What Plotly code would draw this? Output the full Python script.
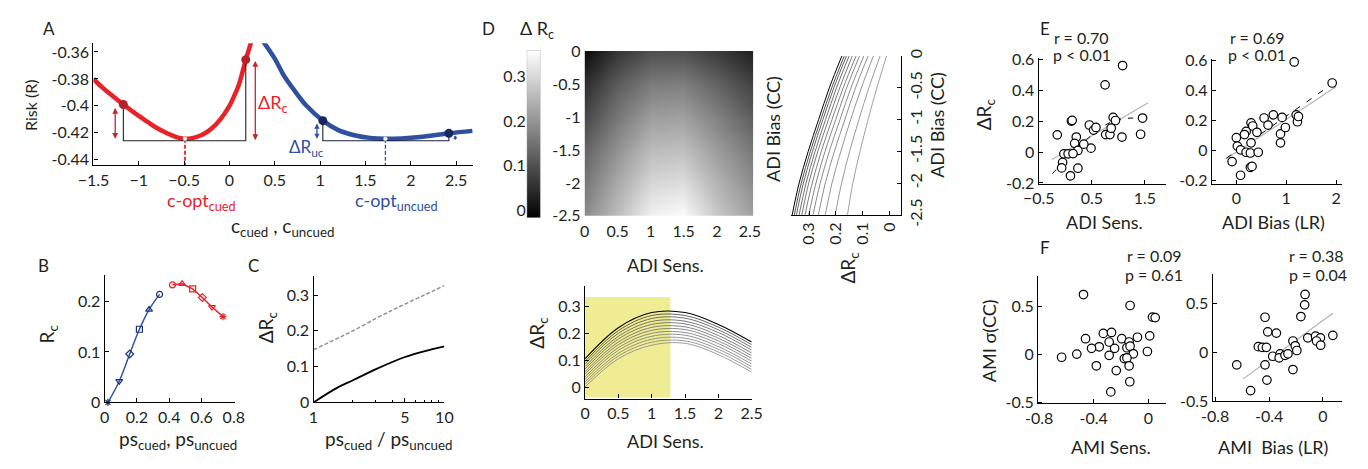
import plotly.graph_objects as go

W, H = 1368, 469
FONT = "Lato"
TXT = "#231f20"
RED = "#ea2127"
BLUE = "#2f4f9f"
DRED = "#b0232a"
DBLUE = "#1c2560"

# ---------------- data ----------------
# Panel A: risk curves
a_cued_c = [-1.5, -1.4, -1.3, -1.17, -1.0, -0.9, -0.8, -0.7, -0.6, -0.49, -0.4, -0.3, -0.2, -0.1,
            0.0, 0.05, 0.1, 0.15, 0.18, 0.22, 0.25]
a_cued_r = [-0.380, -0.3865, -0.392, -0.399, -0.4075, -0.412, -0.4165, -0.4200, -0.4228, -0.4245,
            -0.4238, -0.4215, -0.4170, -0.4100, -0.4000, -0.3930, -0.3850, -0.3735, -0.3657, -0.3570, -0.3500]
a_unc_c = [0.37, 0.5, 0.6, 0.71, 0.85, 1.03, 1.2, 1.39, 1.55, 1.72, 1.9, 2.1, 2.42, 2.68]
a_unc_r = [-0.352, -0.365, -0.3775, -0.388, -0.400, -0.411, -0.418, -0.422, -0.4238, -0.4245,
           -0.4242, -0.4232, -0.4204, -0.4186]
a_cued_pts_c = [-1.17, 0.18]
a_cued_pts_r = [-0.399, -0.3657]
a_unc_pts_c = [1.03, 2.42]
a_unc_pts_r = [-0.411, -0.4204]
a_base = -0.4259
a_copt = [-0.49, 1.72]
a_xticks = [-1.5, -1, -0.5, 0, 0.5, 1, 1.5, 2, 2.5]
a_yticks = [-0.44, -0.42, -0.40, -0.38, -0.36]
a_yticktext = ["-0.44", "-0.42", "-0.4", "-0.38", "-0.36"]

# Panel B
b_unc_ps = [0.02, 0.09, 0.155, 0.215, 0.275, 0.34]
b_unc_rc = [0.0, 0.042, 0.096, 0.145, 0.184, 0.214]
b_cue_ps = [0.42, 0.48, 0.545, 0.605, 0.665, 0.733]
b_cue_rc = [0.233, 0.235, 0.225, 0.208, 0.189, 0.170]
b_unc_sym = ["asterisk-open", "triangle-down-open", "diamond-open", "square-open", "triangle-up-open", "circle-open"]
b_cue_sym = ["circle-open", "triangle-up-open", "square-open", "diamond-open", "triangle-down-open", "asterisk-open"]

# Panel C
c_ratio = [1, 1.5, 2, 3, 4, 5, 7, 10]
c_solid = [0.0, 0.040, 0.062, 0.093, 0.113, 0.127, 0.143, 0.157]
c_dashed = [0.147, 0.178, 0.200, 0.235, 0.258, 0.275, 0.300, 0.327]

# Panel D heatmap (Delta Rc over ADI sens x ADI bias)
hm_sens = [0, 0.5, 1.0, 1.5, 2.0, 2.55]
hm_bias = [0, -0.5, -1.0, -1.5, -2.0, -2.5]
hm_z = [
    [0.00, 0.06, 0.10, 0.10, 0.07, 0.03],
    [0.05, 0.12, 0.165, 0.17, 0.13, 0.08],
    [0.09, 0.16, 0.215, 0.22, 0.175, 0.12],
    [0.13, 0.20, 0.26, 0.265, 0.215, 0.16],
    [0.16, 0.235, 0.30, 0.31, 0.25, 0.19],
    [0.19, 0.265, 0.34, 0.355, 0.28, 0.22],
]
cb_lo, cb_hi = -0.017, 0.36

# Panel D right: Delta Rc vs ADI bias (one curve per sensitivity)
dr_bias = [0, -0.5, -1.0, -1.5, -2.0, -2.5]
dr_curves = [
    [0.178, 0.225, 0.265, 0.304, 0.338, 0.364],
    [0.169, 0.216, 0.257, 0.296, 0.330, 0.356],
    [0.161, 0.208, 0.249, 0.288, 0.322, 0.348],
    [0.151, 0.198, 0.239, 0.278, 0.312, 0.338],
    [0.139, 0.186, 0.228, 0.268, 0.302, 0.328],
    [0.125, 0.173, 0.215, 0.255, 0.289, 0.316],
    [0.112, 0.160, 0.201, 0.241, 0.275, 0.302],
    [0.096, 0.144, 0.185, 0.225, 0.259, 0.286],
    [0.080, 0.127, 0.167, 0.206, 0.240, 0.266],
    [0.060, 0.105, 0.145, 0.182, 0.215, 0.240],
    [0.035, 0.077, 0.114, 0.149, 0.179, 0.203],
    [0.011, 0.047, 0.080, 0.110, 0.137, 0.157],
]

# Panel D bottom: Delta Rc vs ADI sens (one curve per bias)
db_sens = [0, 0.5, 1.0, 1.5, 2.0, 2.5]
db_curves = [
    [0.105, 0.220, 0.276, 0.276, 0.232, 0.167],
    [0.095, 0.209, 0.265, 0.265, 0.222, 0.157],
    [0.086, 0.199, 0.254, 0.255, 0.212, 0.147],
    [0.076, 0.188, 0.243, 0.244, 0.202, 0.137],
    [0.067, 0.178, 0.232, 0.234, 0.191, 0.126],
    [0.057, 0.167, 0.221, 0.223, 0.181, 0.116],
    [0.048, 0.157, 0.210, 0.213, 0.171, 0.106],
    [0.038, 0.146, 0.199, 0.202, 0.161, 0.096],
    [0.029, 0.136, 0.188, 0.192, 0.150, 0.085],
    [0.019, 0.125, 0.177, 0.181, 0.140, 0.075],
    [0.010, 0.115, 0.166, 0.171, 0.130, 0.065],
    [0.000, 0.105, 0.155, 0.162, 0.120, 0.055],
]
db_band = [0, 1.28, -0.039, 0.334]

# Panel E
e1_x = [1.08, 0.75, -0.15, 0.116, 0.13, 0.454, 0.533, 0.578, 0.208, 0.177, 0.238, 0.485, 0.349,
        -0.026, 0.054, 0.146, -0.05, -0.068, 0.238, 0.098, 0.902, 0.946, 0.762, 0.841, 0.865, 1.068, 1.419, 1.456]
e1_y = [0.56, 0.435, 0.111, 0.2, 0.205, 0.175, 0.142, 0.159, 0.097, 0.056, 0.010, 0.025, 0.051,
        -0.012, -0.012, -0.01, -0.068, -0.103, -0.105, -0.154, 0.224, 0.204, 0.113, 0.113, 0.154, 0.097, 0.115, 0.22]
e1_fit_x = [-0.253, 1.56]
e1_fit_y = [-0.048, 0.319]
e1_trend_x = [-0.24, 0.3, 0.9, 1.45]
e1_trend_y = [-0.14, 0.05, 0.20, 0.22]

e2_x = [1.161, 1.923, 0.557, 0.742, 0.919, 0.636, 0.295, 0.329, 0.197, 0.163, 0.413, 0.0, 0.02, 0.085,
        0.197, 0.281, 0.439, 0.295, -0.085, 0.085, 0.281, 0.315, 0.886, 0.886, 0.984, 1.201, 1.226, 1.246]
e2_y = [0.59, 0.45, 0.217, 0.238, 0.221, 0.170, 0.185, 0.164, 0.128, 0.107, 0.122, 0.086, 0.030, 0.005,
        -0.011, -0.016, -0.011, 0.052, -0.073, -0.164, -0.111, -0.105, 0.111, 0.052, 0.154, 0.238, 0.192, 0.227]
e2_fit_x = [-0.2, 2.0]
e2_fit_y = [-0.054, 0.425]
e2_trend_x = [-0.2, 1.95]
e2_trend_y = [-0.05, 0.45]

# Panel F
f1_x = [-0.475, -0.134, 0.03, 0.05, 0.01, -0.08, -0.195, -0.33, -0.27, -0.46, -0.287, -0.141, -0.36, -0.416,
        -0.247, -0.157, -0.134, -0.11, -0.007, -0.287, -0.176, -0.157, -0.524, -0.635, -0.381, -0.235, -0.141, -0.136, -0.275]
f1_y = [0.62, 0.506, 0.385, 0.38, 0.19, 0.175, 0.16, 0.215, 0.225, 0.16, 0.126, 0.126, 0.076, 0.06,
        0.06, 0.066, 0.082, 0.003, 0.027, -0.013, -0.047, -0.04, 0.0, -0.033, -0.122, -0.172, -0.122, -0.288, -0.394]

f2_x = [-0.133, -0.136, -0.164, -0.43, -0.41, -0.346, -0.113, -0.055, -0.019, -0.048, -0.017, 0.073, -0.223,
        -0.206, -0.194, -0.48, -0.45, -0.42, -0.373, -0.318, -0.325, -0.282, -0.26, -0.43, -0.223, -0.64, -0.416, -0.537]
f2_y = [0.59, 0.484, 0.364, 0.357, 0.208, 0.195, 0.146, 0.163, 0.146, 0.114, 0.071, 0.172, 0.114,
        0.065, 0.017, 0.056, 0.049, 0.049, -0.042, -0.017, -0.058, -0.032, -0.017, -0.13, -0.178, -0.13, -0.286, -0.393]
f2_fit_x = [-0.594, 0.073]
f2_fit_y = [-0.276, 0.397]

# ---------------- figure ----------------
fig = go.Figure()


def xd(a, b):
    return [a / W, b / W]


def yd(top, bot):
    return [1 - bot / H, 1 - top / H]


BASE = dict(showline=True, linecolor="black", linewidth=1.3, ticks="inside", ticklen=4,
            tickwidth=1, tickcolor="black", showgrid=False, zeroline=False,
            tickfont=dict(family=FONT, size=16, color=TXT), fixedrange=True)


def add_axes(n, xdom, ydom, xr, yr, xkw=None, ykw=None):
    ref = "" if n == 1 else str(n)
    xa = dict(BASE, domain=xdom, range=xr, anchor="y" + ref)
    ya = dict(BASE, domain=ydom, range=yr, anchor="x" + ref)
    if xkw:
        xa.update(xkw)
    if ykw:
        ya.update(ykw)
    fig.update_layout({"xaxis" + ref: xa, "yaxis" + ref: ya})


def txt(x, y, s, size=17, color=TXT, angle=0, xanchor="center", yanchor="middle"):
    fig.add_annotation(x=x / W, y=1 - y / H, xref="paper", yref="paper", text=s, showarrow=False,
                       font=dict(family=FONT, size=size, color=color), textangle=angle,
                       xanchor=xanchor, yanchor=yanchor)


def line(xs, ys, ax, color, width=1.0, dash=None, shape="linear"):
    fig.add_trace(go.Scatter(x=xs, y=ys, mode="lines", xaxis="x" + ax, yaxis="y" + ax,
                             line=dict(color=color, width=width, dash=dash, shape=shape),
                             showlegend=False, hoverinfo="skip"))


# ---- Panel A ----
add_axes(1, xd(79, 466), yd(35, 163), [-1.5, 2.684], [-0.4442, -0.3536],
         xkw=dict(tickvals=a_xticks), ykw=dict(tickvals=a_yticks, ticktext=a_yticktext))
line(a_cued_c, a_cued_r, "", RED, 4.5, shape="spline")
line(a_unc_c, a_unc_r, "", BLUE, 4.5, shape="spline")
line([a_cued_pts_c[0], a_cued_pts_c[0], a_cued_pts_c[1], a_cued_pts_c[1]],
     [a_cued_pts_r[0], a_base, a_base, a_cued_pts_r[1]], "", "#222222", 1.1)
line([a_unc_pts_c[0], a_unc_pts_c[0], a_unc_pts_c[1], a_unc_pts_c[1]],
     [a_unc_pts_r[0], a_base, a_base, a_unc_pts_r[1]], "", "#1a1f45", 1.1)
line([a_copt[0], a_copt[0]], [-0.4245, -0.4442], "", RED, 1.8, dash="4px,2px")
line([a_copt[1], a_copt[1]], [-0.4245, -0.4442], "", BLUE, 1.3, dash="4px,2px")
fig.add_trace(go.Scatter(x=a_copt, y=[-0.4245, -0.4245], mode="markers", xaxis="x", yaxis="y",
                         marker=dict(size=4, color="white", line=dict(color="#bbbbbb", width=0.6)),
                         showlegend=False, hoverinfo="skip", cliponaxis=False))
fig.add_trace(go.Scatter(x=a_cued_pts_c, y=a_cued_pts_r, mode="markers", xaxis="x", yaxis="y",
                         marker=dict(size=9, color=DRED), showlegend=False, hoverinfo="skip", cliponaxis=False))
fig.add_trace(go.Scatter(x=a_unc_pts_c, y=a_unc_pts_r, mode="markers", xaxis="x", yaxis="y",
                         marker=dict(size=9, color=DBLUE), showlegend=False, hoverinfo="skip", cliponaxis=False))


def darrow(x, y0, y1, color, w=1.3, size=0.9):
    fig.add_annotation(x=x, y=y1, ax=x, ay=y0, xref="x", yref="y", axref="x", ayref="y",
                       showarrow=True, arrowhead=2, startarrowhead=2, arrowside="end+start",
                       arrowsize=size, startarrowsize=size, arrowwidth=w, arrowcolor=color, text="",
                       standoff=0, startstandoff=0)


darrow(-1.26, -0.4005, -0.4245, "#c8242b")
darrow(0.285, -0.3655, -0.4255, "#c8242b")
darrow(0.965, -0.412, -0.4245, BLUE, 1.3, 0.8)
darrow(2.49, -0.4208, -0.4255, BLUE, 1.0, 0.7)

txt(34, 19, "A", 17)
txt(15, 100, "Risk (R)", 16, angle=-90)
txt(272, 228, "c<sub>cued</sub> , c<sub>uncued</sub>", 19)
txt(189, 201, "c-opt<sub>cued</sub>", 18, RED)
txt(388, 201, "c-opt<sub>uncued</sub>", 18, BLUE)
txt(262, 98, "ΔR<sub>c</sub>", 18, RED)
txt(296, 145, "ΔR<sub>uc</sub>", 17, BLUE)

# ---- Panel B ----
add_axes(2, xd(90.5, 223), yd(278.3, 411.7), [0, 0.805], [0, 0.252],
         xkw=dict(tickvals=[0, 0.2, 0.4, 0.6, 0.8], ticktext=["0", "0.2", "0.4", "0.6", "0.8"]),
         ykw=dict(tickvals=[0, 0.1, 0.2]))
fig.add_trace(go.Scatter(x=b_unc_ps, y=b_unc_rc, mode="lines+markers", xaxis="x2", yaxis="y2",
                         line=dict(color="#2d56a8", width=1.5, shape="spline"),
                         marker=dict(symbol=b_unc_sym, size=6, color="#1f2f7a", line=dict(color="#1f2f7a", width=1.2)),
                         showlegend=False, hoverinfo="skip", cliponaxis=False))
fig.add_trace(go.Scatter(x=b_cue_ps, y=b_cue_rc, mode="lines+markers", xaxis="x2", yaxis="y2",
                         line=dict(color=RED, width=1.5),
                         marker=dict(symbol=b_cue_sym, size=6, color=RED, line=dict(color=RED, width=1.2)),
                         showlegend=False, hoverinfo="skip", cliponaxis=False))
txt(28, 268, "B", 17)
txt(33, 340, "R<sub>c</sub>", 19, angle=-90)
txt(165, 451, "ps<sub>cued</sub>, ps<sub>uncued</sub>", 19)

# ---- Panel C ----
add_axes(3, xd(303.5, 437), yd(279.3, 411.7), [0, 1], [0, 0.353],
         xkw=dict(type="log", tickvals=[1, 5, 10], ticktext=["1", "5", "10"],
                  minor=dict(tickvals=[2, 3, 4, 6, 7, 8, 9], ticks="inside", ticklen=2.5, tickcolor="black")),
         ykw=dict(tickvals=[0, 0.1, 0.2, 0.3]))
line(c_ratio, c_dashed, "3", "#8c8c8c", 1.4, dash="4px,2px", shape="spline")
line(c_ratio, c_solid, "3", "black", 1.8, shape="spline")
txt(242, 268, "C", 17)
txt(256, 333, "ΔR<sub>c</sub>", 19, angle=-90)
txt(380, 451, "ps<sub>cued</sub> / ps<sub>uncued</sub>", 19)

# ---- Panel D: colorbar axis ----
GRAY = [[0, "black"], [1, "white"]]
add_axes(4, xd(521, 535), yd(42, 218), [0, 1], [cb_lo, cb_hi],
         xkw=dict(visible=False),
         ykw=dict(showline=False, ticks="", tickvals=[0, 0.1, 0.2, 0.3], ticktext=["0", "0.1", "0.2", "0.3"]))
fig.add_trace(go.Heatmap(x=[0, 1], y=[cb_lo, cb_hi], z=[[cb_lo, cb_lo], [cb_hi, cb_hi]], zmin=cb_lo, zmax=cb_hi,
                         colorscale=GRAY, zsmooth="best", showscale=False, xaxis="x4", yaxis="y4", hoverinfo="skip"))
fig.add_shape(type="rect", xref="x4", yref="y4", x0=0, x1=1, y0=cb_lo, y1=cb_hi,
              line=dict(color="#b0b0b0", width=0.8))
txt(531, 20, "Δ R<sub>c</sub>", 18)
txt(482, 19, "D", 17)

# heatmap
add_axes(5, xd(580, 752), yd(43, 216), [0, 2.55], [-2.5, 0],
         xkw=dict(showline=False, ticks="", ticklabelstandoff=4, tickvals=[0, 0.5, 1, 1.5, 2, 2.5],
                  ticktext=["0", "0.5", "1", "1.5", "2", "2.5"]),
         ykw=dict(showline=False, ticks="", ticklabelstandoff=3, tickvals=[0, -0.5, -1, -1.5, -2, -2.5],
                  ticktext=["0", "-0.5", "-1", "-1.5", "-2", "-2.5"]))
fig.add_trace(go.Heatmap(x=hm_sens, y=hm_bias, z=hm_z, zmin=cb_lo, zmax=cb_hi, colorscale=GRAY,
                         zsmooth="best", showscale=False, xaxis="x5", yaxis="y5", hoverinfo="skip"))
txt(663, 268, "ADI Sens.", 18)

# D right curves
add_axes(6, xd(790.7, 903.3), yd(48.3, 215), [0.368, -0.045], [-2.5, 0],
         xkw=dict(tickvals=[0.3, 0.2, 0.1, 0], ticktext=["0.3", "0.2", "0.1", "0"], tickangle=-90),
         ykw=dict(side="right", tickvals=[0, -0.5, -1, -1.5, -2, -2.5], ticktext=["0", "-0.5", "-1", "-1.5", "-2", "-2.5"], tickangle=-90))
dr_cols = ["#000000", "#222222", "#3a3a3a", "#4a4a4a", "#555555", "#5e5e5e",
           "#666666", "#6e6e6e", "#747474", "#7a7a7a", "#808080", "#888888"]
for k, cv in enumerate(dr_curves):
    line(cv, dr_bias, "6", dr_cols[k], 1.0 if k == 0 else 0.8, shape="spline")
txt(772, 125, "ADI Bias (CC)", 18, angle=-90)
txt(940, 120, "ADI Bias (CC)", 18, angle=-90)
txt(850, 270, "ΔR<sub>c</sub>", 19, angle=-90)

# D bottom curves
add_axes(7, xd(580.5, 750.5), yd(290, 407.7), [0, 2.5], [-0.0428, 0.373],
         xkw=dict(tickvals=[0, 0.5, 1, 1.5, 2, 2.5], ticktext=["0", "0.5", "1", "1.5", "2", "2.5"]),
         ykw=dict(tickvals=[0, 0.1, 0.2, 0.3]))
fig.add_shape(type="rect", xref="x7", yref="y7", x0=db_band[0], x1=db_band[1], y0=db_band[2], y1=db_band[3],
              fillcolor="#f0ec94", line=dict(width=0), layer="below")
db_cols = ["#000000", "#3c3c3c", "#4c4c4c", "#575757", "#5f5f5f", "#666666",
           "#6c6c6c", "#717171", "#767676", "#7b7b7b", "#808080", "#858585"]
for k, cv in enumerate(db_curves):
    line(db_sens, cv, "7", db_cols[k], 1.1 if k == 0 else 0.8, shape="spline")
txt(533, 338, "ΔR<sub>c</sub>", 19, angle=-90)
txt(663, 452, "ADI Sens.", 18)

# ---- Panel E ----
circ = dict(symbol="circle", size=8.5, color="white", line=dict(color="black", width=1.2))

add_axes(8, xd(1043.3, 1173.3), yd(50, 182.7), [-0.5, 1.9], [-0.208, 0.611],
         xkw=dict(tickvals=[-0.5, 0.5, 1.5]), ykw=dict(tickvals=[-0.2, 0, 0.2, 0.4, 0.6], ticktext=["-0.2", "0", "0.2", "0.4", "0.6"]))
line(e1_fit_x, e1_fit_y, "8", "#b4b4b4", 1.2)
line(e1_trend_x, e1_trend_y, "8", "black", 1.0, dash="5px,7px", shape="spline")
fig.add_trace(go.Scatter(x=e1_x, y=e1_y, mode="markers", xaxis="x8", yaxis="y8", marker=circ,
                         showlegend=False, hoverinfo="skip", cliponaxis=False))

add_axes(9, xd(1220, 1352.7), yd(51.7, 182.7), [-0.49, 2.12], [-0.223, 0.608],
         xkw=dict(tickvals=[0, 1, 2]), ykw=dict(tickvals=[-0.2, 0, 0.2, 0.4, 0.6], ticktext=["-0.2", "0", "0.2", "0.4", "0.6"]))
line(e2_fit_x, e2_fit_y, "9", "#b4b4b4", 1.2)
line(e2_trend_x, e2_trend_y, "9", "black", 1.0, dash="6px,8px")
fig.add_trace(go.Scatter(x=e2_x, y=e2_y, mode="markers", xaxis="x9", yaxis="y9", marker=circ,
                         showlegend=False, hoverinfo="skip", cliponaxis=False))

txt(1050, 19, "E", 17)
txt(1087, 29, "r = 0.70", 16)
txt(1087, 47, "p &lt; 0.01", 16)
txt(1266, 29, "r = 0.69", 16)
txt(1266, 47, "p &lt; 0.01", 16)
txt(988, 110, "ΔR<sub>c</sub>", 19, angle=-90)
txt(1110, 222, "ADI Sens.", 18)
txt(1283, 222, "ADI Bias (LR)", 18)

# ---- Panel F ----
add_axes(10, xd(1042.7, 1173.3), yd(279.3, 412.7), [-0.807, 0.13], [-0.513, 0.811],
         xkw=dict(tickvals=[-0.8, -0.4, 0], ticktext=["-0.8", "-0.4", "0"]),
         ykw=dict(tickvals=[-0.5, 0, 0.5], ticktext=["-0.5", "0", "0.5"]))
fig.add_trace(go.Scatter(x=f1_x, y=f1_y, mode="markers", xaxis="x10", yaxis="y10", marker=circ,
                         showlegend=False, hoverinfo="skip", cliponaxis=False))

add_axes(11, xd(1220.7, 1352.7), yd(276.7, 410.7), [-0.819, 0.141], [-0.504, 0.802],
         xkw=dict(tickvals=[-0.8, -0.4, 0], ticktext=["-0.8", "-0.4", "0"]),
         ykw=dict(tickvals=[-0.5, 0, 0.5], ticktext=["-0.5", "0", "0.5"]))
line(f2_fit_x, f2_fit_y, "11", "#b4b4b4", 1.2)
fig.add_trace(go.Scatter(x=f2_x, y=f2_y, mode="markers", xaxis="x11", yaxis="y11", marker=circ,
                         showlegend=False, hoverinfo="skip", cliponaxis=False))

txt(1050, 249, "F", 17)
txt(1161, 258, "r = 0.09", 16)
txt(1161, 277, "p = 0.61", 16)
txt(1297, 258, "r = 0.38", 16, xanchor="left")
txt(1297, 277, "p = 0.04", 16, xanchor="left")
txt(992, 347, "AMI σ(CC)", 18, angle=-90)
txt(1117, 458, "AMI Sens.", 18)
txt(1282, 458, "AMI  Bias (LR)", 18)

fig.update_layout(width=W, height=H, margin=dict(l=0, r=0, t=0, b=0), autosize=False,
                  paper_bgcolor="white", plot_bgcolor="rgba(0,0,0,0)",
                  font=dict(family=FONT, color=TXT), showlegend=False)

fig.write_html("out.html", config={"displayModeBar": False, "responsive": False},
               post_script=("document.documentElement.style.margin='0';"
                            "document.body.style.margin='0';document.body.style.padding='0';"
                            "document.body.style.overflow='hidden';"
                            "document.documentElement.style.overflow='hidden';"))
